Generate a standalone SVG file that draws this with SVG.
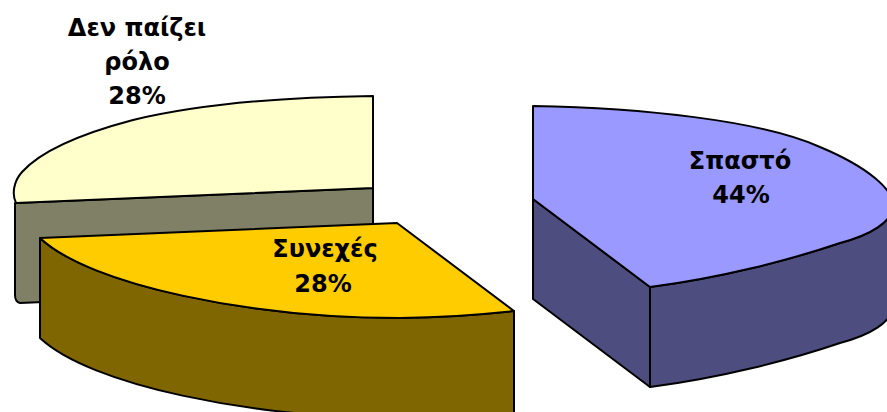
<svg xmlns="http://www.w3.org/2000/svg" width="887" height="412" viewBox="0 0 887 412">
<style>
  .edge { stroke: #000; stroke-width: 2; stroke-linejoin: round; }
  .lbl { font-family: "DejaVu Sans", Verdana, sans-serif; font-weight: bold; font-size: 24px; fill: #000; text-anchor: middle; }
</style>
<rect width="887" height="412" fill="#fff"/>
<g id="slice-den-paizei-rolo">
  <path class="edge" fill="#808066" d="M16,203 L373,188 L373,288 L20,303 Q15,302 15,295 L15,203 Z"/>
  <path class="edge" fill="#FFFFCC" d="M373,96 C290,97 200,104 133,120 C80,134 40,152 22,172 C13,182 12,195 16,203 L373,188 Z"/>
  <text class="lbl" x="137" y="36">Δεν παίζει</text>
  <text class="lbl" x="137" y="70">ρόλο</text>
  <text class="lbl" x="137" y="104">28%</text>
</g>
<g id="slice-synexes">
  <path class="edge" fill="#806600" d="M40,238 C90,285 250,318 400,318 Q460,317 514,311 L514,420 L400,418 C250,418 90,385 40,338 Z"/>
  <path class="edge" fill="#FFCC00" d="M40,238 L397,223 L514,311 Q460,317 400,318 C250,318 90,285 40,238 Z"/>
  <text class="lbl" x="325" y="257">Συνεχές</text>
  <text class="lbl" x="323" y="292">28%</text>
</g>
<g id="slice-spasto">
  <path class="edge" fill="#4D4D80" d="M533,199 L650,287 L650,387 L533,299 Z"/>
  <path class="edge" fill="#4D4D80" d="M650,287 C720,278 790,260 840,243 C870,235 893,222 893,205 L893,305 C893,322 870,335 840,343 C790,360 720,378 650,387 Z"/>
  <path class="edge" fill="#9999FF" d="M533,106 C640,108 760,120 820,147 C870,168 893,190 893,205 C893,222 870,235 840,243 C790,260 720,278 650,287 L533,199 Z"/>
  <text class="lbl" x="740" y="169">Σπαστό</text>
  <text class="lbl" x="741" y="203">44%</text>
</g>
</svg>
